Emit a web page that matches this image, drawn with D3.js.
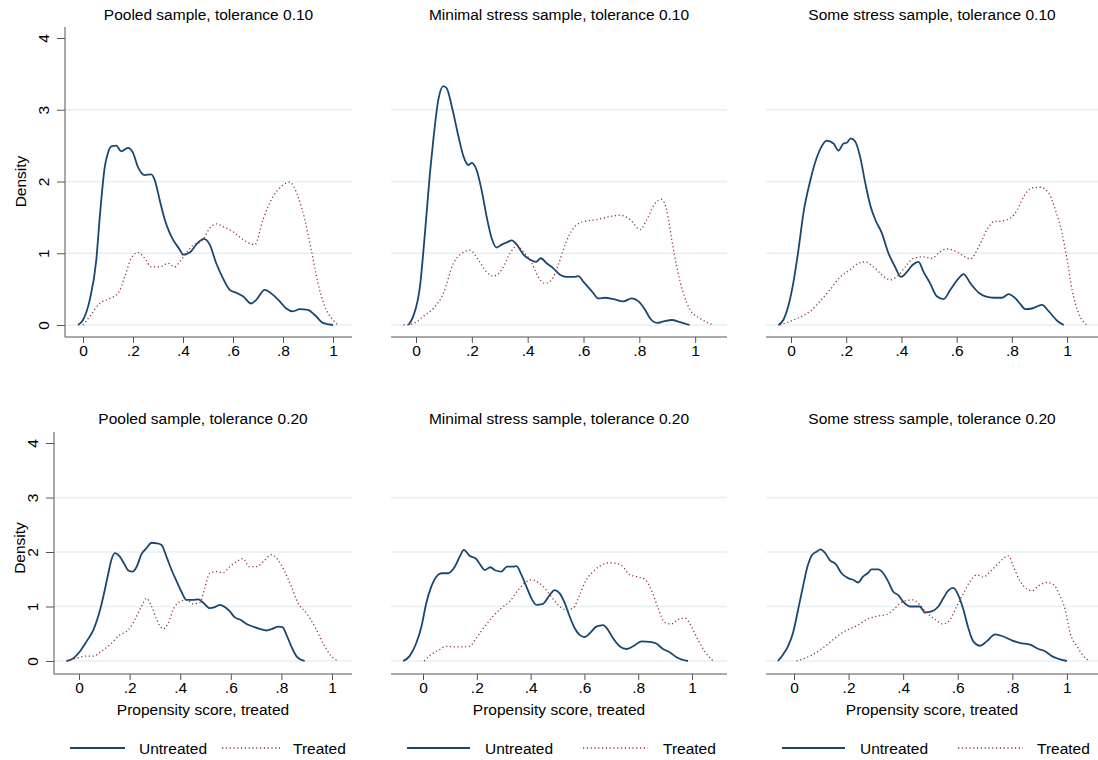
<!DOCTYPE html>
<html>
<head>
<meta charset="utf-8">
<script src="https://cdn.jsdelivr.net/npm/d3@7"></script>
<style>
  body { margin: 0; background: #fff; }
  text { font-family: "Liberation Sans", Arial, sans-serif; fill: #000; }
</style>
</head>
<body>
<script>
// panel titles
const titles = [
  'Pooled sample, tolerance 0.10',
  'Minimal stress sample, tolerance 0.10',
  'Some stress sample, tolerance 0.10',
  'Pooled sample, tolerance 0.20',
  'Minimal stress sample, tolerance 0.20',
  'Some stress sample, tolerance 0.20'
];
const xTicks = [0, 0.2, 0.4, 0.6, 0.8, 1];
const yTicks = [0, 1, 2, 3, 4];
const gridValues = [0, 1, 2, 3];
const seriesNames = ['Untreated', 'Treated'];
// x range of each panel's plot region
const xExtents = [
  [-0.072, 1.076], [-0.0896, 1.114], [-0.0906, 1.112],
  [-0.0988, 1.079], [-0.119, 1.130], [-0.1026, 1.114]
];

// density curves: [score, density]
const pooled10Untreated = [[-0.02,0],[0,0.07],[0.027,0.35],[0.053,0.9],[0.067,1.5],[0.087,2.2],[0.1,2.4],[0.113,2.49],[0.133,2.5],[0.153,2.42],[0.18,2.47],[0.2,2.4],[0.22,2.2],[0.247,2.09],[0.273,2.1],[0.287,2.02],[0.307,1.74],[0.327,1.47],[0.347,1.28],[0.36,1.19],[0.387,1.05],[0.4,0.98],[0.427,1.01],[0.453,1.12],[0.483,1.2],[0.507,1.12],[0.533,0.86],[0.56,0.65],[0.587,0.49],[0.613,0.45],[0.64,0.4],[0.673,0.3],[0.693,0.35],[0.727,0.49],[0.76,0.42],[0.787,0.33],[0.813,0.23],[0.84,0.19],[0.867,0.22],[0.9,0.21],[0.927,0.14],[0.96,0.03],[1.0,0]];
const pooled10Treated = [[0,0],[0.027,0.12],[0.067,0.3],[0.107,0.37],[0.14,0.44],[0.167,0.67],[0.193,0.93],[0.22,1.01],[0.247,0.93],[0.273,0.81],[0.307,0.81],[0.34,0.86],[0.367,0.81],[0.393,0.91],[0.433,1.09],[0.48,1.19],[0.507,1.35],[0.533,1.41],[0.56,1.37],[0.6,1.3],[0.64,1.19],[0.687,1.12],[0.72,1.47],[0.76,1.79],[0.793,1.93],[0.827,1.99],[0.86,1.79],[0.887,1.47],[0.913,1.05],[0.94,0.58],[0.967,0.26],[1.0,0.07],[1.02,0]];
const minimal10Untreated = [[-0.027,0],[-0.01,0.12],[0.014,0.53],[0.032,1.28],[0.05,2.12],[0.062,2.58],[0.08,3.14],[0.098,3.33],[0.11,3.3],[0.128,3.05],[0.152,2.63],[0.17,2.35],[0.188,2.23],[0.2,2.26],[0.217,2.16],[0.235,1.88],[0.253,1.51],[0.271,1.21],[0.289,1.08],[0.307,1.12],[0.325,1.15],[0.343,1.18],[0.361,1.12],[0.385,0.98],[0.409,0.91],[0.43,0.88],[0.447,0.93],[0.468,0.86],[0.492,0.79],[0.516,0.7],[0.54,0.67],[0.564,0.67],[0.582,0.68],[0.6,0.6],[0.63,0.47],[0.654,0.37],[0.677,0.38],[0.707,0.36],[0.743,0.33],[0.773,0.37],[0.797,0.33],[0.821,0.21],[0.839,0.09],[0.863,0.03],[0.887,0.05],[0.916,0.07],[0.946,0.04],[0.98,0]];
const minimal10Treated = [[-0.045,0],[-0.01,0.02],[0.026,0.12],[0.062,0.23],[0.098,0.44],[0.134,0.86],[0.164,1.0],[0.194,1.04],[0.223,0.91],[0.253,0.74],[0.277,0.68],[0.307,0.77],[0.337,1.0],[0.361,1.1],[0.385,1.02],[0.415,0.86],[0.438,0.67],[0.462,0.58],[0.486,0.63],[0.51,0.84],[0.534,1.12],[0.564,1.35],[0.6,1.44],[0.648,1.47],[0.695,1.51],[0.731,1.53],[0.767,1.47],[0.803,1.33],[0.827,1.47],[0.857,1.7],[0.88,1.75],[0.898,1.6],[0.916,1.19],[0.934,0.81],[0.958,0.44],[0.982,0.21],[1.018,0.09],[1.066,0]];
const some10Untreated = [[-0.046,0],[-0.028,0.07],[-0.01,0.26],[0.008,0.58],[0.027,1.05],[0.045,1.56],[0.069,2.0],[0.093,2.33],[0.111,2.49],[0.129,2.57],[0.154,2.53],[0.172,2.43],[0.19,2.53],[0.202,2.54],[0.216,2.6],[0.232,2.56],[0.25,2.35],[0.269,1.98],[0.287,1.67],[0.305,1.47],[0.329,1.28],[0.353,1.0],[0.377,0.81],[0.398,0.67],[0.42,0.74],[0.441,0.84],[0.462,0.88],[0.48,0.74],[0.504,0.58],[0.528,0.4],[0.553,0.36],[0.577,0.49],[0.607,0.65],[0.625,0.71],[0.65,0.58],[0.68,0.45],[0.704,0.4],[0.734,0.38],[0.764,0.38],[0.788,0.43],[0.813,0.37],[0.831,0.29],[0.849,0.22],[0.873,0.23],[0.909,0.28],[0.934,0.19],[0.964,0.06],[0.988,0]];
const some10Treated = [[-0.04,0],[-0.004,0.05],[0.033,0.11],[0.069,0.19],[0.105,0.33],[0.141,0.49],[0.178,0.67],[0.214,0.77],[0.244,0.86],[0.268,0.88],[0.299,0.81],[0.329,0.7],[0.359,0.63],[0.383,0.67],[0.414,0.81],[0.444,0.93],[0.474,0.95],[0.51,0.93],[0.54,1.02],[0.565,1.06],[0.601,1.02],[0.631,0.95],[0.649,0.92],[0.68,1.09],[0.71,1.33],[0.734,1.44],[0.764,1.45],[0.794,1.49],[0.819,1.6],[0.843,1.79],[0.873,1.91],[0.903,1.92],[0.933,1.84],[0.958,1.6],[0.982,1.28],[1.0,0.91],[1.018,0.49],[1.042,0.16],[1.072,0]];
const pooled20Untreated = [[-0.049,0],[-0.022,0.05],[0.004,0.18],[0.03,0.36],[0.057,0.57],[0.076,0.82],[0.096,1.18],[0.116,1.61],[0.129,1.87],[0.142,1.98],[0.162,1.91],[0.178,1.79],[0.195,1.66],[0.212,1.64],[0.228,1.73],[0.247,1.96],[0.267,2.07],[0.287,2.17],[0.307,2.16],[0.326,2.13],[0.346,1.91],[0.366,1.67],[0.386,1.46],[0.405,1.27],[0.425,1.12],[0.451,1.12],[0.471,1.13],[0.491,1.07],[0.517,0.97],[0.537,0.99],[0.557,1.03],[0.576,0.99],[0.596,0.91],[0.616,0.8],[0.636,0.76],[0.662,0.68],[0.688,0.63],[0.714,0.59],[0.741,0.56],[0.764,0.59],[0.787,0.63],[0.804,0.62],[0.82,0.48],[0.839,0.27],[0.859,0.09],[0.879,0.02],[0.892,0]];
const pooled20Treated = [[-0.049,0],[-0.009,0.05],[0.03,0.09],[0.057,0.09],[0.089,0.18],[0.122,0.3],[0.162,0.48],[0.195,0.57],[0.221,0.76],[0.247,1.0],[0.267,1.15],[0.287,1.0],[0.307,0.76],[0.333,0.59],[0.353,0.7],[0.372,0.94],[0.399,1.09],[0.425,1.12],[0.451,1.05],[0.478,1.07],[0.497,1.34],[0.517,1.61],[0.543,1.64],[0.57,1.62],[0.596,1.73],[0.622,1.82],[0.649,1.88],[0.672,1.73],[0.701,1.73],[0.728,1.82],[0.761,1.95],[0.787,1.85],[0.813,1.64],[0.839,1.37],[0.866,1.06],[0.899,0.88],[0.932,0.63],[0.964,0.33],[0.997,0.09],[1.024,0]];
const minimal20Untreated = [[-0.074,0],[-0.05,0.09],[-0.025,0.33],[-0.006,0.63],[0.012,1.06],[0.031,1.37],[0.05,1.55],[0.068,1.61],[0.093,1.61],[0.118,1.73],[0.136,1.91],[0.152,2.04],[0.173,1.93],[0.196,1.88],[0.211,1.78],[0.229,1.67],[0.25,1.72],[0.27,1.66],[0.291,1.64],[0.312,1.73],[0.335,1.73],[0.347,1.74],[0.366,1.58],[0.384,1.37],[0.403,1.15],[0.421,1.03],[0.446,1.05],[0.471,1.21],[0.489,1.3],[0.508,1.24],[0.527,1.06],[0.545,0.82],[0.564,0.6],[0.582,0.48],[0.601,0.44],[0.62,0.51],[0.644,0.63],[0.669,0.66],[0.688,0.57],[0.706,0.42],[0.731,0.27],[0.756,0.22],[0.781,0.27],[0.812,0.36],[0.843,0.35],[0.867,0.32],[0.892,0.22],[0.917,0.16],[0.942,0.07],[0.985,0]];
const minimal20Treated = [[0.004,0],[0.031,0.12],[0.062,0.21],[0.087,0.27],[0.118,0.26],[0.149,0.26],[0.173,0.27],[0.198,0.42],[0.229,0.63],[0.26,0.82],[0.291,0.97],[0.322,1.09],[0.353,1.3],[0.378,1.43],[0.403,1.49],[0.428,1.44],[0.452,1.34],[0.477,1.18],[0.502,1.03],[0.533,0.94],[0.558,0.97],[0.582,1.21],[0.607,1.49],[0.632,1.64],[0.657,1.74],[0.688,1.8],[0.719,1.79],[0.743,1.73],[0.768,1.58],[0.793,1.55],[0.824,1.5],[0.849,1.3],[0.874,0.97],[0.898,0.71],[0.923,0.68],[0.948,0.76],[0.973,0.79],[0.998,0.63],[1.022,0.39],[1.047,0.18],[1.078,0]];
const some20Untreated = [[-0.059,0],[-0.04,0.12],[-0.022,0.27],[-0.004,0.51],[0.015,0.94],[0.033,1.37],[0.051,1.76],[0.067,1.95],[0.084,2.01],[0.097,2.05],[0.113,1.99],[0.131,1.85],[0.153,1.78],[0.174,1.61],[0.198,1.52],[0.217,1.49],[0.235,1.44],[0.253,1.55],[0.272,1.62],[0.284,1.68],[0.308,1.68],[0.327,1.61],[0.345,1.46],[0.364,1.27],[0.382,1.21],[0.4,1.09],[0.425,1.0],[0.461,1.0],[0.48,0.89],[0.504,0.91],[0.529,1.0],[0.547,1.15],[0.565,1.29],[0.584,1.34],[0.602,1.21],[0.621,0.94],[0.639,0.6],[0.657,0.36],[0.682,0.28],[0.706,0.36],[0.737,0.49],[0.767,0.45],[0.798,0.38],[0.829,0.33],[0.865,0.3],[0.896,0.22],[0.92,0.18],[0.945,0.09],[0.969,0.04],[1.0,0]];
const some20Treated = [[0.009,0],[0.039,0.05],[0.07,0.12],[0.106,0.24],[0.143,0.39],[0.174,0.51],[0.204,0.59],[0.235,0.66],[0.266,0.76],[0.302,0.82],[0.339,0.85],[0.364,0.94],[0.388,1.05],[0.412,1.11],[0.437,1.12],[0.461,1.03],[0.486,0.89],[0.517,0.76],[0.547,0.68],[0.572,0.76],[0.596,1.0],[0.621,1.24],[0.645,1.46],[0.67,1.58],[0.694,1.54],[0.718,1.64],[0.743,1.76],[0.767,1.88],[0.786,1.93],[0.804,1.73],[0.829,1.46],[0.853,1.32],[0.872,1.29],[0.896,1.38],[0.927,1.44],[0.951,1.4],[0.976,1.18],[0.994,0.94],[1.012,0.51],[1.037,0.27],[1.061,0.09],[1.08,0]];

const untreatedSeries = [pooled10Untreated, minimal10Untreated, some10Untreated, pooled20Untreated, minimal20Untreated, some20Untreated];
const treatedSeries = [pooled10Treated, minimal10Treated, some10Treated, pooled20Treated, minimal20Treated, some20Treated];

const navy = '#1a476f';
const maroon = '#90353b';
const gridColor = '#e8eff3';
const axisColor = '#555';
const fs = 15.5;

const svg = d3.select('body').append('svg')
  .attr('width', 1098).attr('height', 760);

// layout of the 2x3 grid, in pixels
const colBox = [[65, 352], [391, 727], [766, 1098]];
const colBoxBottom = [[54, 352], [391, 727], [766, 1098]];
const rows = [
  { axisTop: 27, axisBottom: 337, y0: 325, y4: 38, titleY: 19.5 },
  { axisTop: 432, axisBottom: 674, y0: 661, y4: 443, titleY: 423.5 }
];
const legendPos = [[70, 125, 139, 222, 280, 293], [407, 470, 485, 583, 648, 663], [782, 845, 860, 958, 1023, 1037]];

const fmt = v => v === 0 ? '0' : v === 1 ? '1' : d3.format('.1f')(v).replace(/^0/, '');

for (let p = 0; p < 6; p++) {
  const r = Math.floor(p / 3), c = p % 3;
  const row = rows[r];
  const box = r === 0 ? colBox[c] : colBoxBottom[c];
  const x = d3.scaleLinear().domain(xExtents[p]).range(box);
  const y = d3.scaleLinear().domain([0, 4]).range([row.y0, row.y4]);
  const g = svg.append('g');

  // gridlines
  g.selectAll('.grid').data(gridValues).join('line')
    .attr('x1', box[0]).attr('x2', box[1])
    .attr('y1', d => y(d)).attr('y2', d => y(d))
    .attr('stroke', gridColor).attr('stroke-width', 1.5);

  // x axis
  const xAxis = d3.axisBottom(x).tickValues(xTicks).tickFormat(fmt).tickSize(6).tickPadding(2);
  const xg = g.append('g').attr('transform', `translate(0,${row.axisBottom})`).call(xAxis);
  xg.select('.domain').attr('stroke', axisColor).attr('d', `M${box[0]},0H${box[1]}`);
  xg.selectAll('.tick line').attr('stroke', axisColor);
  xg.selectAll('.tick text').attr('font-size', fs).attr('fill', '#000')
    .style('font-family', '"Liberation Sans", Arial, sans-serif');

  // y axis only in left column
  if (c === 0) {
    const yAxis = d3.axisLeft(y).tickValues(yTicks).tickFormat(d3.format('d')).tickSize(8).tickPadding(4);
    const yg = g.append('g').attr('transform', `translate(${box[0]},0)`).call(yAxis);
    yg.select('.domain').attr('stroke', axisColor).attr('d', `M0,${row.axisTop}V${row.axisBottom}`);
    yg.selectAll('.tick line').attr('stroke', axisColor);
    yg.selectAll('.tick text').attr('font-size', fs).attr('fill', '#000')
      .style('font-family', '"Liberation Sans", Arial, sans-serif')
      .attr('text-anchor', 'middle').attr('x', 0).attr('dy', null)
      .attr('transform', 'translate(-22,0) rotate(-90)')
      .attr('dominant-baseline', 'central');
    g.append('text')
      .attr('transform', `translate(${r === 0 ? 20 : 19},${(y(0) + y(4)) / 2 + (r === 0 ? 0 : -4)}) rotate(-90)`)
      .attr('text-anchor', 'middle').attr('dominant-baseline', 'central')
      .attr('font-size', fs).text('Density');
  }

  // curves
  const line = d3.line().x(d => x(d[0])).y(d => y(d[1])).curve(d3.curveMonotoneX);
  g.append('path').datum(untreatedSeries[p]).attr('d', line)
    .attr('fill', 'none').attr('stroke', navy).attr('stroke-width', 1.8);
  g.append('path').datum(treatedSeries[p]).attr('d', line)
    .attr('fill', 'none').attr('stroke', maroon).attr('stroke-width', 1.3)
    .attr('stroke-dasharray', '1.2,2.6');

  // title
  g.append('text').attr('x', (box[0] + box[1]) / 2).attr('y', row.titleY)
    .attr('text-anchor', 'middle').attr('font-size', fs).text(titles[p]);

  if (r === 1) {
    g.append('text').attr('x', (box[0] + box[1]) / 2).attr('y', 714.5)
      .attr('text-anchor', 'middle').attr('font-size', fs).text('Propensity score, treated');

    const lp = legendPos[c];
    const ly = 748;
    g.append('line').attr('x1', lp[0]).attr('x2', lp[1]).attr('y1', ly).attr('y2', ly)
      .attr('stroke', navy).attr('stroke-width', 1.8);
    g.append('text').attr('x', lp[2]).attr('y', ly).attr('dominant-baseline', 'central')
      .attr('font-size', fs).text(seriesNames[0]);
    g.append('line').attr('x1', lp[3]).attr('x2', lp[4]).attr('y1', ly).attr('y2', ly)
      .attr('stroke', maroon).attr('stroke-width', 1.3).attr('stroke-dasharray', '1.2,2.6');
    g.append('text').attr('x', lp[5]).attr('y', ly).attr('dominant-baseline', 'central')
      .attr('font-size', fs).text(seriesNames[1]);
  }
}
</script>
</body>
</html>
